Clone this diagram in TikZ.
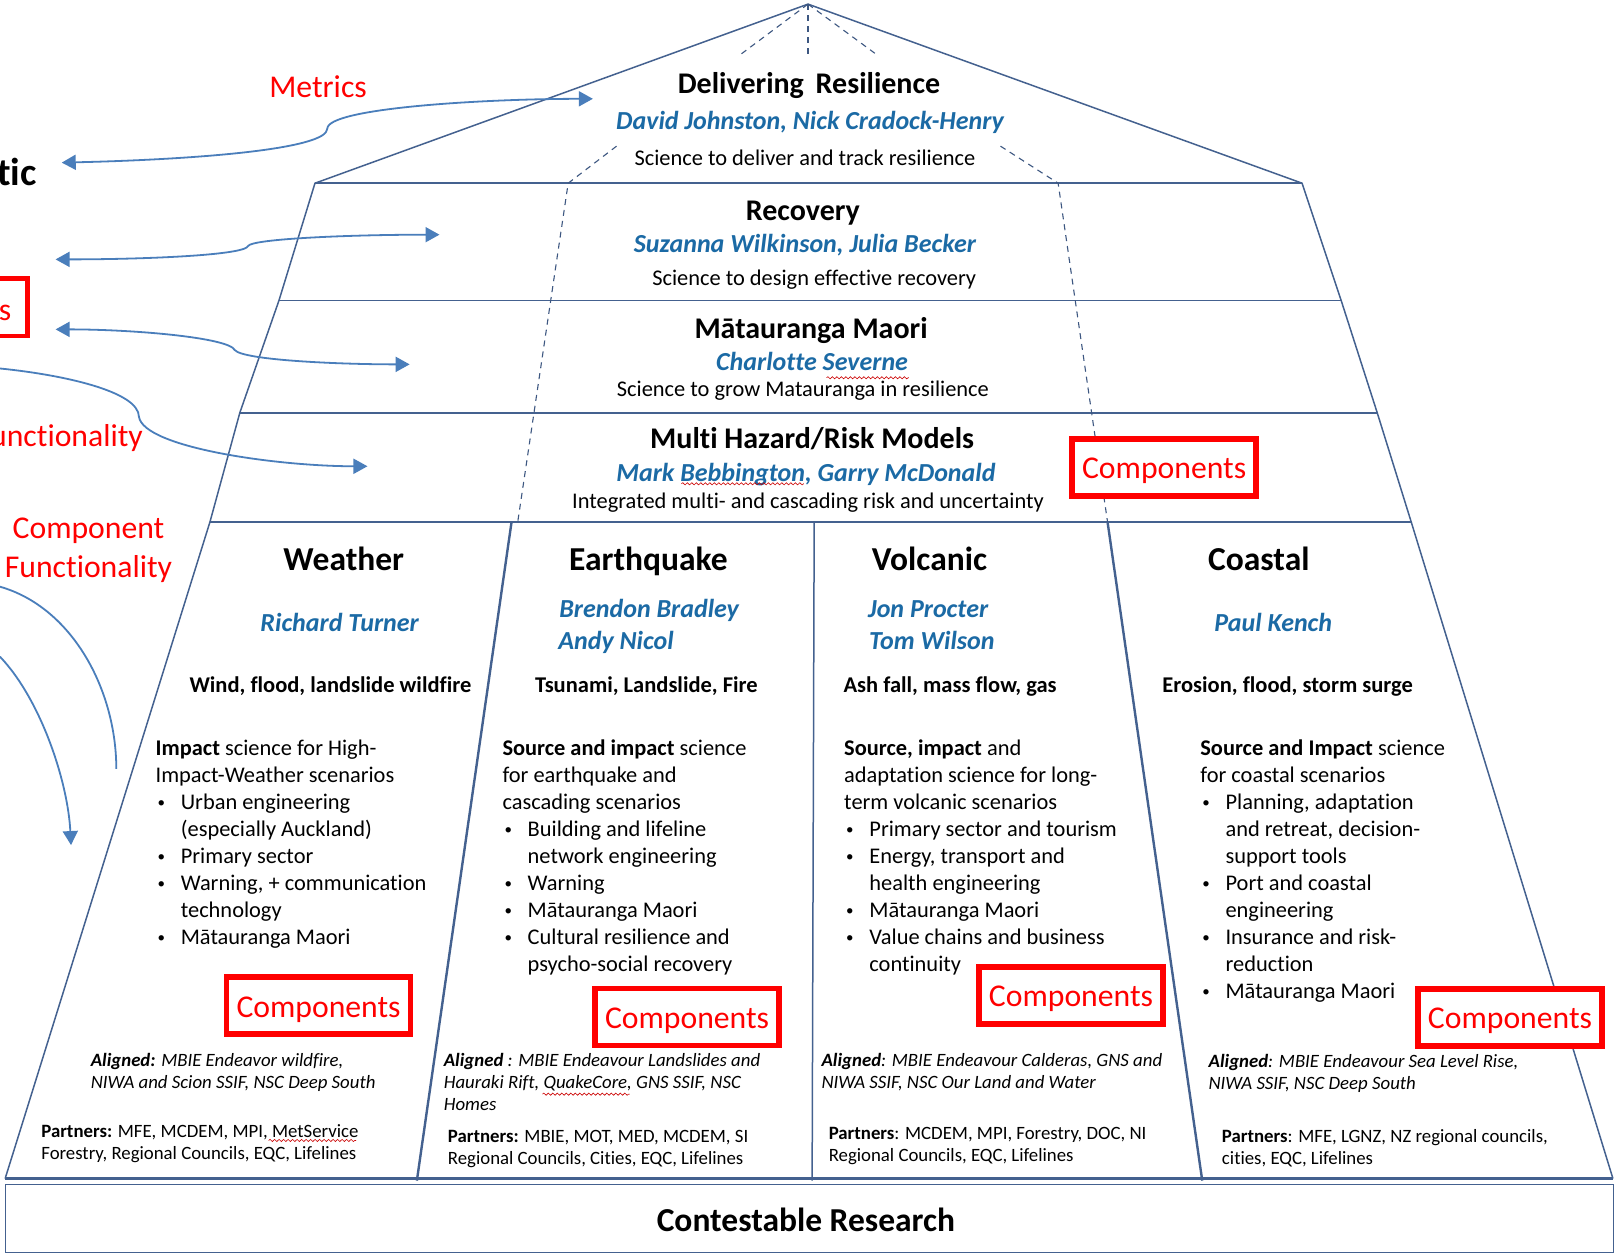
\documentclass[tikz,border=0pt]{standalone}
\usepackage{fontspec}
\setmainfont[Ligatures=NoCommon]{Carlito}
\usetikzlibrary{arrows.meta,decorations.pathmorphing}
\definecolor{edgeblue}{HTML}{44618F}
\definecolor{namesblue}{HTML}{1B6AA5}
\definecolor{curveblue}{HTML}{4A7EBB}
\newcommand{\Bul}{\makebox[25.2pt][l]{\hspace*{2pt}\fontsize{15}{15}\selectfont\raisebox{1.5pt}{\textbullet}}}
\newcommand{\Ind}{\hspace*{25.2pt}}
\tikzset{
  edgeline/.style={color=edgeblue,line width=1.5pt},
  divline/.style={color=edgeblue,line width=2.4pt},
  dashline/.style={color=edgeblue!90!black,line width=1.1pt,dash pattern=on 6pt off 5pt},
  curvearrow/.style={color=curveblue,line width=1.8pt,>={Triangle[length=14pt,width=15pt]}},
  wavy/.style={color=red!80!black,line width=0.6pt,decorate,decoration={snake,amplitude=1.1pt,segment length=4.5pt}},
  headtext/.style={anchor=base,font=\bfseries\fontsize{30}{32}\selectfont},
  namestext/.style={anchor=base,color=namesblue,font=\bfseries\itshape\fontsize{26}{28}\selectfont},
  sciencetext/.style={anchor=base,font=\fontsize{22.4}{24}\selectfont},
  colhead/.style={anchor=base,font=\bfseries\fontsize{33.5}{35}\selectfont},
  subtext/.style={anchor=base,font=\bfseries\fontsize{22.5}{24}\selectfont},
  bodytext/.style={anchor=north west,inner sep=0pt,align=left,font=\fontsize{22.4}{27}\selectfont},
  smalltext/.style={anchor=north west,inner sep=0pt,align=left,font=\fontsize{18.8}{22.2}\selectfont},
  redtext/.style={color=red,font=\fontsize{31.7}{39}\selectfont},
  redbox/.style={draw=red,line width=5.5pt,fill=white,text=red,minimum width=184pt,minimum height=57pt,inner sep=0pt,text height=28pt,font=\fontsize{31.7}{34}\selectfont},
}
\begin{document}
\begin{tikzpicture}[x=1.0293pt,y=-1.0293pt]
\useasboundingbox (0,0) rectangle (1568.05,1217.3);
\clip (0,0) rectangle (1568.05,1217.3);
\fill[white] (0,0) rectangle (1568.05,1217.3);
% Drawing pyramid corners
\coordinate (apex) at (785,4);
\coordinate (roofL) at (306,178);
\coordinate (roofR) at (1265,178);
\coordinate (recL) at (271,292);
\coordinate (recR) at (1303,292);
\coordinate (matL) at (233,401);
\coordinate (matR) at (1338,401);
\coordinate (modL) at (204,507);
\coordinate (modR) at (1371,507);
\coordinate (baseL) at (5,1145);
\coordinate (baseR) at (1567,1145);
\coordinate (divA) at (497,507);
\coordinate (divAb) at (405,1147);
\coordinate (divB) at (791,507);
\coordinate (divBb) at (789,1147);
\coordinate (divC) at (1076,507);
\coordinate (divCb) at (1168,1147);
\coordinate (dashL) at (552,178);
\coordinate (dashR) at (1028,178);
\coordinate (dashLb) at (503,507);
\coordinate (dashRb) at (1076,507);
% Done with corners; drawing outline
\draw[edgeline] (baseL) -- (modL) -- (matL) -- (recL) -- (roofL) -- (apex) -- (roofR) -- (recR) -- (matR) -- (modR) -- (baseR);
\draw[edgeline] (roofL) -- (roofR);
\draw[edgeline] (recL) -- (recR);
\draw[edgeline] (matL) -- (matR);
\draw[edgeline] (modL) -- (modR);
\draw[divline] (divA) -- (divAb);
\draw[edgeline] (divB) -- (divBb);
\draw[divline] (divC) -- (divCb);
\draw[divline] (baseL) -- (baseR);
% Dashes
\coordinate (spokeA) at (718,54);
\coordinate (spokeB) at (785,55);
\coordinate (spokeC) at (853,54);
\coordinate (spokeD) at (599,142);
\coordinate (spokeE) at (972,142);
\draw[dashline] (apex) -- (spokeA);
\draw[dashline] (apex) -- (spokeB);
\draw[dashline] (apex) -- (spokeC);
\draw[dashline] (spokeD) -- (dashL) -- (dashLb);
\draw[dashline] (spokeE) -- (dashR) -- (dashRb);
% Bottom box
\node[draw=edgeblue,line width=1.3pt,minimum width=1608pt,minimum height=68pt,anchor=north west,inner sep=0pt] (contest) at (5,1150) {};
\node[headtext,font=\bfseries\fontsize{33.5}{35}\selectfont] (contestT) at (783,1196) {Contestable Research};
% Tier labels
\node[headtext] (deliverH) at (786,91) {Delivering\, Resilience};
\node[namestext] (deliverN) at (787,126) {David Johnston, Nick Cradock-Henry};
\node[sciencetext] (deliverS) at (782,161) {Science to deliver and track resilience};
\node[headtext] (recoverH) at (780,214) {Recovery};
\node[namestext] (recoverN) at (782,245) {Suzanna Wilkinson, Julia Becker};
\node[sciencetext] (recoverS) at (791,277) {Science to design effective recovery};
\node[headtext] (matauH) at (788,329) {Mātauranga Maori};
\node[namestext] (matauN) at (789,360) {Charlotte Severne};
\node[sciencetext] (matauS) at (780,385) {Science to grow Matauranga in resilience};
\node[headtext] (modelsH) at (789,436) {Multi Hazard/Risk Models};
\node[namestext] (modelsN) at (783,468) {Mark Bebbington, Garry McDonald};
\node[sciencetext] (modelsS) at (785,494) {Integrated multi- and cascading risk and uncertainty};
% Weather
\node[colhead] (weatherH) at (334,554) {Weather};
\node[namestext] (weatherN) at (330,614) {Richard Turner};
\node[subtext] (weatherS) at (321,673) {Wind, flood, landslide wildfire};
\node[bodytext] (weatherB) at (151,718.5) {\textbf{Impact} science for High-\\Impact-Weather scenarios\\\Bul Urban engineering\\\Ind (especially Auckland)\\\Bul Primary sector\\\Bul Warning, + communication\\\Ind technology\\\Bul Mātauranga Maori};
\node[smalltext] (weatherA) at (88,1023) {\textbf{\textit{Aligned:}} \textit{MBIE Endeavor wildfire,}\\\textit{NIWA and Scion SSIF, NSC Deep South}};
\node[smalltext] (weatherP) at (40,1092) {\textbf{Partners:} MFE, MCDEM, MPI, MetService\\Forestry, Regional Councils, EQC, Lifelines};
% Earthquake
\node[colhead] (quakeH) at (630,554) {Earthquake};
\node[namestext,anchor=base west] (quakeN) at (540,600) {Brendon Bradley};
\node[namestext,anchor=base west] (quakeM) at (539,631) {Andy Nicol};
\node[subtext] (quakeS) at (628,673) {Tsunami, Landslide, Fire};
\node[bodytext] (quakeB) at (488,718.5) {\textbf{Source and impact} science\\for earthquake and\\cascading scenarios\\\Bul Building and lifeline\\\Ind network engineering\\\Bul Warning\\\Bul Mātauranga Maori\\\Bul Cultural resilience and\\\Ind psycho-social recovery};
\node[smalltext] (quakeA) at (431,1023) {\textbf{\textit{Aligned}} \textit{: MBIE Endeavour Landslides and}\\\textit{Hauraki Rift, QuakeCore, GNS SSIF, NSC}\\\textit{Homes}};
\node[smalltext] (quakeP) at (435,1098) {\textbf{Partners:} MBIE, MOT, MED, MCDEM, SI\\Regional Councils, Cities, EQC, Lifelines};
% Volcanic
\node[colhead] (volcH) at (903,554) {Volcanic};
\node[namestext,anchor=base west] (volcN) at (840,600) {Jon Procter};
\node[namestext,anchor=base west] (volcM) at (841,631) {Tom Wilson};
\node[subtext] (volcS) at (923,673) {Ash fall, mass flow, gas};
\node[bodytext] (volcB) at (820,718.5) {\textbf{Source, impact} and\\adaptation science for long-\\term volcanic scenarios\\\Bul Primary sector and tourism\\\Bul Energy, transport and\\\Ind health engineering\\\Bul Mātauranga Maori\\\Bul Value chains and business\\\Ind continuity};
\node[smalltext] (volcA) at (798,1023) {\textbf{\textit{Aligned}}\textit{: MBIE Endeavour Calderas, GNS and}\\\textit{NIWA SSIF, NSC Our Land and Water}};
\node[smalltext] (volcP) at (805,1095) {\textbf{Partners}: MCDEM, MPI, Forestry, DOC, NI\\Regional Councils, EQC, Lifelines};
% Coastal
\node[colhead] (coastH) at (1223,554) {Coastal};
\node[namestext] (coastN) at (1237,614) {Paul Kench};
\node[subtext] (coastS) at (1251,673) {Erosion, flood, storm surge};
\node[bodytext] (coastB) at (1166,718.5) {\textbf{Source and Impact} science\\for coastal scenarios\\\Bul Planning, adaptation\\\Ind and retreat, decision-\\\Ind support tools\\\Bul Port and coastal\\\Ind engineering\\\Bul Insurance and risk-\\\Ind reduction\\\Bul Mātauranga Maori};
\node[smalltext] (coastA) at (1174,1024) {\textbf{\textit{Aligned}}\textit{: MBIE Endeavour Sea Level Rise,}\\\textit{NIWA SSIF, NSC Deep South}};
\node[smalltext] (coastP) at (1187,1097) {\textbf{Partners}: MFE, LGNZ, NZ regional councils,\\cities, EQC, Lifelines};
% Spelling marks
\draw[wavy] (803,367) -- (883,367);
\draw[wavy] (662,470) -- (781,470);
\draw[wavy] (527,1063) -- (612,1063);
\draw[wavy] (261,1108) -- (346,1108);
% Red boxes
\node[redbox] (compModels) at (1131,454) {Components};
\node[redbox] (compWeather) at (309.5,977) {Components};
\node[redbox] (compQuake) at (667.5,988) {Components};
\node[redbox] (compVolc) at (1040.5,967) {Components};
\node[redbox] (compCoast) at (1467,988.5) {Components};
% Left margin labels
\node[redtext] (metrics) at (309,84) {Metrics};
\node[anchor=base east,inner sep=0pt,font=\bfseries\fontsize{39}{40}\selectfont] (ticT) at (36,180) {tic};
\draw[red,line width=4.5pt] (-10,270.5) -- (26.5,270.5) -- (26.5,326.5) -- (-10,326.5);
\node[redtext,anchor=base] (boxS) at (5,311) {s};
\node[redtext,anchor=base east,inner sep=0pt] (funcT) at (139,434) {unctionality};
\node[redtext,align=center] (compFunc) at (86,535) {Component\\Functionality};
% Curved arrows
\coordinate (metA) at (60,158);
\coordinate (metM) at (318,125);
\coordinate (metB) at (576,96);
\draw[curvearrow,<->] (metA) .. controls (190,155) and (318,145) .. (metM) .. controls (318,105) and (470,96) .. (metB);
\coordinate (recA) at (54,252);
\coordinate (recM) at (241,239);
\coordinate (recB) at (427,228);
\draw[curvearrow,<->] (recA) .. controls (140,252) and (238,248) .. (recM) .. controls (245,232) and (340,228) .. (recB);
\coordinate (matA) at (54,320);
\coordinate (matM) at (228,340);
\coordinate (matB) at (398,354);
\draw[curvearrow,<->] (matA) .. controls (130,320) and (222,328) .. (matM) .. controls (236,350) and (330,354) .. (matB);
\coordinate (modA) at (0,358);
\coordinate (modM) at (135,405);
\coordinate (modB) at (357,453);
\draw[curvearrow,->] (modA) .. controls (60,364) and (135,380) .. (modM) .. controls (140,435) and (270,453) .. (modB);
\coordinate (armA) at (0,570);
\coordinate (armB) at (113,747);
\draw[curvearrow] (armA) .. controls (70,590) and (113,670) .. (armB);
\coordinate (armC) at (0,638);
\coordinate (armD) at (69,821);
\draw[curvearrow,->] (armC) .. controls (40,680) and (66,760) .. (armD);
\end{tikzpicture}
\end{document}
